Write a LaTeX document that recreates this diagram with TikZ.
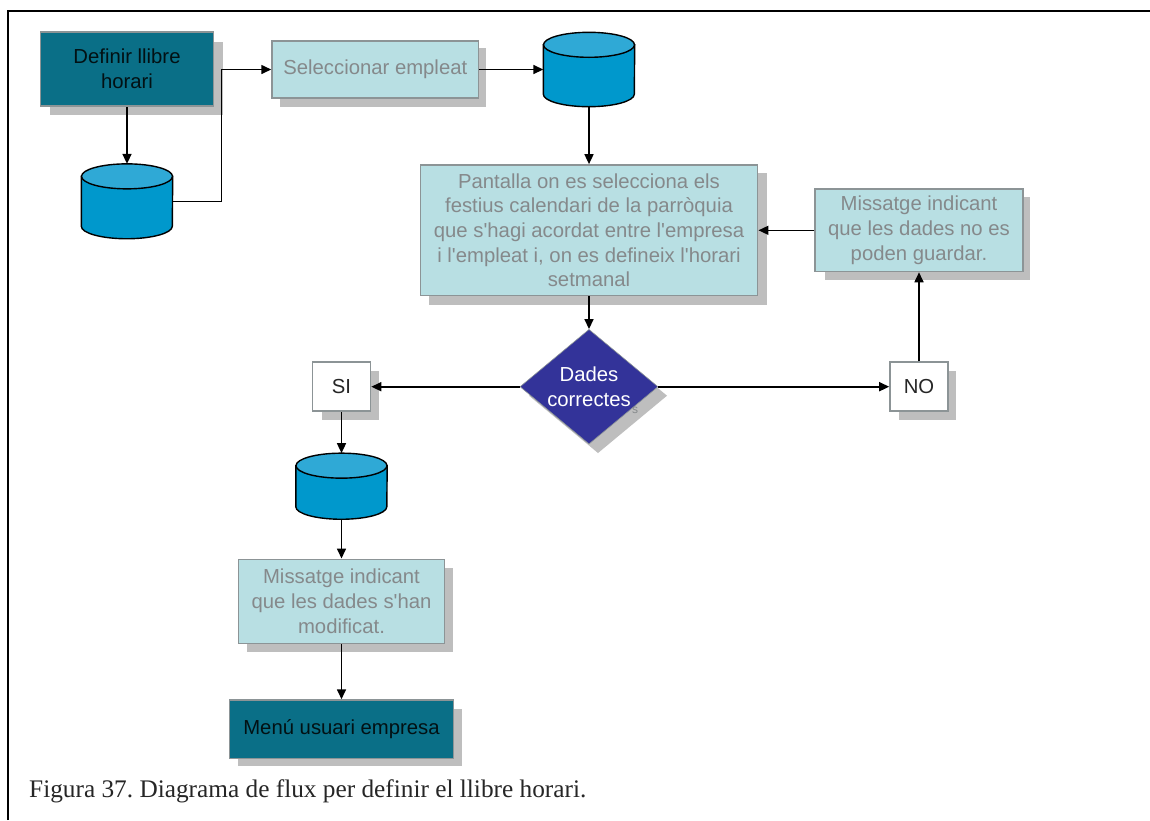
\documentclass[tikz,border=0pt]{standalone}
\usepackage{fontspec}
\setmainfont{Liberation Serif}
\newfontfamily\diagfont{Liberation Sans}
\usetikzlibrary{shapes.geometric,arrows.meta}
\definecolor{tealbox}{HTML}{0A6F87}
\definecolor{lightbox}{HTML}{B8DFE3}
\definecolor{boxedge}{HTML}{8C9496}
\definecolor{shadowgrey}{HTML}{BEBEBE}
\definecolor{greytext}{HTML}{85898B}
\definecolor{cylbody}{HTML}{0098CC}
\definecolor{cyltop}{HTML}{2FA9D6}
\definecolor{diamondblue}{HTML}{333399}
\tikzset{
  x=1pt,y=-1pt,
  boxtext/.style={font=\diagfont\fontsize{20.3}{24.7}\selectfont},
  shadowbox/.style={rectangle,draw=boxedge,line width=1.6pt,inner sep=0pt,align=center,boxtext},
  lightnode/.style={shadowbox,fill=lightbox,text=greytext},
  tealnode/.style={shadowbox,fill=tealbox,text=black!85!tealbox},
  whitenode/.style={shadowbox,fill=white,text=black!85},
  dropshadow/.style={fill=shadowgrey,draw=none},
  conn/.style={draw=black,line width=1.6pt,-{Triangle[length=10pt,width=9pt]}},
  store/.style={rectangle,draw=none,inner sep=0pt,minimum width=91pt},
  frameline/.style={draw=black,line width=1.8pt}
}
\newcommand{\cylart}[1]{%
  \filldraw[fill=cylbody,draw=black,line width=1.4pt]
    ([yshift=-12.5pt]#1.north west) -- ([yshift=12.5pt]#1.south west)
    arc[start angle=180,end angle=360,x radius=45.5pt,y radius=12.5pt]
    -- ([yshift=-12.5pt]#1.north east) -- cycle;
  \filldraw[fill=cyltop,draw=black,line width=1.4pt]
    ([yshift=-12.5pt]#1.north) ellipse[x radius=45.5pt,y radius=12.5pt];
}
\begin{document}
\frenchspacing
\begin{tikzpicture}
\useasboundingbox (0,0) rectangle (1150,820);
\fill[white] (0,0) rectangle (1150,820);
% frame
\coordinate (fa) at (8,820);
\coordinate (fb) at (8,11);
\coordinate (fc) at (1150,11);
\draw[frameline] (fa) -- (fb) -- (fc);
% shadows
\fill[dropshadow] (50,42) rectangle (222.5,115);
\fill[dropshadow] (280,48) rectangle (486,106.5);
\fill[dropshadow] (429,173) rectangle (766.7,304.5);
\fill[dropshadow] (825,197) rectangle (1030,280);
\fill[dropshadow] (321.5,370.7) rectangle (378.7,419.5);
\fill[dropshadow] (899,370.7) rectangle (956,420);
\fill[dropshadow] (247.3,568.3) rectangle (453,651.7);
\fill[dropshadow] (238,709) rectangle (462,766);
\fill[dropshadow] (598,338.5) -- (667,395.7) -- (598,453) -- (529,395.7) -- cycle;
% nodes
\node[tealnode,minimum width=173pt,minimum height=74pt] (define) at (127,69) {Definir llibre\\horari};
\node[lightnode,minimum width=206.5pt,minimum height=57.5pt] (select) at (375.3,69.5) {Seleccionar empleat};
\node[store,minimum height=74.5pt] (cyla) at (127,201.3) {};
\node[store,minimum height=74pt] (cylb) at (589,69.5) {};
\node[lightnode,minimum width=337.3pt,minimum height=130.7pt] (screen) at (589,230.3) {Pantalla on es selecciona els\\festius calendari de la parròquia\\que s'hagi acordat entre l'empresa\\i l'empleat i, on es defineix l'horari\\setmanal};
\node[lightnode,minimum width=207.7pt,minimum height=82.3pt] (msgno) at (919,230.3) {Missatge indicant\\que les dades no es\\poden guardar.};
\node[diamond,fill=diamondblue,draw=boxedge,line width=.6pt,minimum width=138pt,minimum height=114.7pt,inner sep=0pt] (check) at (589,386.7) {};
\node[align=center,text=white,boxtext] (checklabel) at (589,387) {Dades\\correctes};
\node[font=\diagfont\fontsize{12}{12}\selectfont,text=greytext] (stray) at (635,410) {s};
\node[whitenode,minimum width=58pt,minimum height=49pt] (si) at (341.5,386.7) {SI};
\node[whitenode,minimum width=58pt,minimum height=49pt] (no) at (919,386.7) {NO};
\node[store,minimum height=65.7pt] (cylc) at (341.5,486.2) {};
\node[lightnode,minimum width=206pt,minimum height=84pt] (msgok) at (341.5,601.3) {Missatge indicant\\que les dades s'han\\modificat.};
\node[tealnode,minimum width=224pt,minimum height=58.5pt] (menu) at (341.5,729.3) {Menú usuari empresa};
\cylart{cyla}
\cylart{cylb}
\cylart{cylc}
% connectors
\draw[conn] (define.south) -- (cyla.north);
\coordinate (elbow) at (221.5,201.3);
\draw[conn] (cyla.east) -- (elbow) |- (select.west);
\draw[conn] (select.east) -- (cylb.west |- select.east);
\draw[conn] (cylb.south) -- (screen.north);
\draw[conn] (screen.south) -- (check.north);
\draw[conn] (msgno.west) -- (screen.east);
\draw[conn] (no.north) -- (msgno.south);
\draw[conn] (check.east) -- (no.west);
\draw[conn] (check.west) -- (si.east);
\draw[conn] (si.south) -- (cylc.north);
\draw[conn] (cylc.south) -- (msgok.north);
\draw[conn] (msgok.south) -- (menu.north);
% caption
\node[anchor=base west,inner sep=0pt,font=\fontsize{25.3}{28}\selectfont,text=black!85] (caption) at (29,797) {Figura 37. Diagrama de flux per definir el llibre horari.};
\end{tikzpicture}
\end{document}
